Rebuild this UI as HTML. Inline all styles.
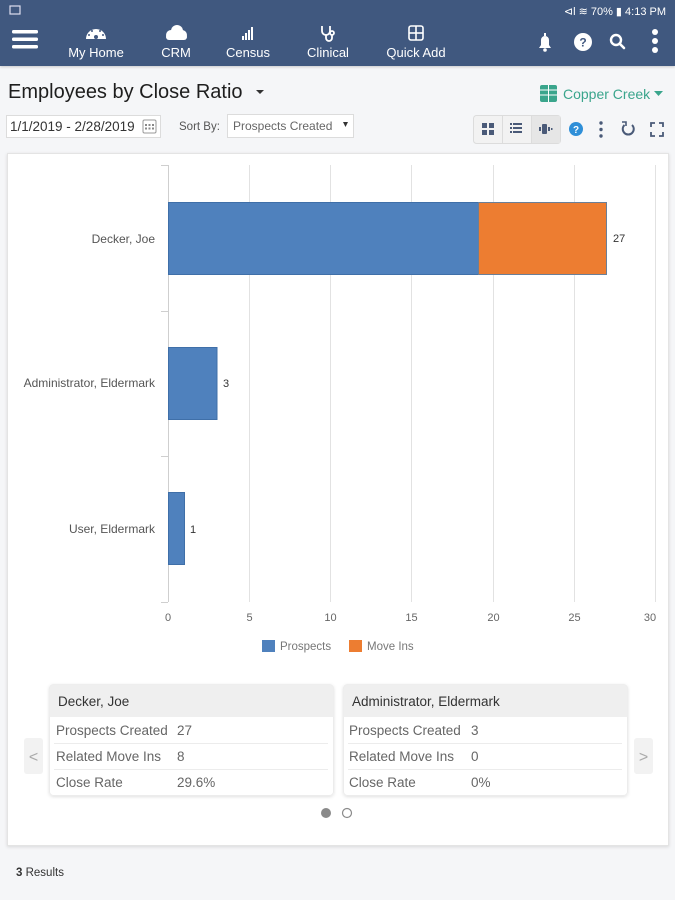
<!DOCTYPE html>
<html><head><meta charset="utf-8"><style>
html,body{margin:0;padding:0;background:#f5f6f8;}
body{width:675px;height:900px;overflow:hidden;font-family:"Liberation Sans",Arial,sans-serif;}
svg{display:block;}
</style></head><body>
<svg width="675" height="900" viewBox="0 0 675 900" xmlns="http://www.w3.org/2000/svg" font-family="Liberation Sans, Arial, sans-serif">
<defs>
<filter id="sh" x="-5%" y="-5%" width="110%" height="115%"><feDropShadow dx="0" dy="1" stdDeviation="1.2" flood-color="#000" flood-opacity="0.18"/></filter>
<filter id="sh2" x="-5%" y="-5%" width="110%" height="115%"><feDropShadow dx="0" dy="1" stdDeviation="1.5" flood-color="#000" flood-opacity="0.12"/></filter>
</defs>
<rect width="675" height="900" fill="#f5f6f8"/>
<!-- top bar -->
<rect x="0" y="0" width="675" height="66" fill="#41587f" filter="url(#sh)"/>
<rect x="10" y="6" width="10" height="8" fill="none" stroke="#dde" stroke-width="1.2"/>
<text x="666" y="15" font-size="11" fill="#fff" text-anchor="end">⊲l  ≋ 70% ▮ 4:13 PM</text>
<!-- hamburger -->
<rect x="12" y="30" width="26" height="3.5" rx="1.5" fill="#fff"/>
<rect x="12" y="37.5" width="26" height="3.5" rx="1.5" fill="#fff"/>
<rect x="12" y="45" width="26" height="3.5" rx="1.5" fill="#fff"/>
<!-- My Home gauge -->
<path d="M86,39 A10,10 0 0 1 106,39 Z" fill="#fff"/>
<circle cx="96" cy="37" r="2" fill="#41587f"/>
<circle cx="89" cy="35" r="1" fill="#41587f"/><circle cx="92" cy="31" r="1" fill="#41587f"/><circle cx="100" cy="31" r="1" fill="#41587f"/><circle cx="103" cy="35" r="1" fill="#41587f"/>
<text x="96" y="57" font-size="13" fill="#fff" text-anchor="middle">My Home</text>
<!-- CRM cloud -->
<g fill="#fff"><circle cx="171" cy="35" r="5"/><circle cx="177" cy="31" r="6"/><circle cx="182" cy="35" r="5"/><rect x="166" y="34" width="21" height="6" rx="3"/></g>
<text x="176" y="57" font-size="13" fill="#fff" text-anchor="middle">CRM</text>
<!-- Census -->
<g fill="#fff"><rect x="242" y="36" width="2" height="4"/><rect x="245" y="33" width="2" height="7"/><rect x="248" y="30" width="2" height="10"/><rect x="251" y="27" width="2" height="13"/></g>
<text x="248" y="57" font-size="13" fill="#fff" text-anchor="middle">Census</text>
<!-- Clinical stethoscope -->
<g fill="none" stroke="#fff" stroke-width="1.8"><path d="M322,26 v5 a4,4 0 0 0 8,0 v-5"/><path d="M326,35 v3 a3,3 0 0 0 6,0 v-3"/><circle cx="332" cy="33" r="2"/></g>
<text x="328" y="57" font-size="13" fill="#fff" text-anchor="middle">Clinical</text>
<!-- Quick Add -->
<g fill="none" stroke="#fff" stroke-width="1.6"><rect x="409" y="26" width="14" height="14" rx="2"/><line x1="416" y1="26" x2="416" y2="40"/><line x1="409" y1="33" x2="423" y2="33"/></g>
<text x="416" y="57" font-size="13" fill="#fff" text-anchor="middle">Quick Add</text>
<!-- bell -->
<path d="M539,48 h12 l-2,-3 v-5 a4,4 0 0 0 -8,0 v5 Z" fill="#fff"/><circle cx="545" cy="50" r="1.8" fill="#fff"/><rect x="544" y="33" width="2" height="3" fill="#fff"/>
<!-- help -->
<circle cx="583" cy="42" r="9" fill="#fff"/>
<text x="583" y="46.5" font-size="12" font-weight="bold" fill="#41587f" text-anchor="middle">?</text>
<!-- search -->
<circle cx="616" cy="40" r="5" fill="none" stroke="#fff" stroke-width="2.4"/><line x1="620" y1="44" x2="624" y2="48" stroke="#fff" stroke-width="2.6" stroke-linecap="round"/>
<!-- dots -->
<circle cx="655" cy="32" r="3" fill="#fff"/><circle cx="655" cy="41" r="3" fill="#fff"/><circle cx="655" cy="50" r="3" fill="#fff"/>

<!-- title -->
<text x="8" y="98" font-size="20" fill="#1e1e1e">Employees by Close Ratio</text>
<path d="M256,90 h8 l-4,4 Z" fill="#333"/>
<!-- Copper creek -->
<rect x="540" y="85" width="17" height="17" rx="2" fill="#3aa58c"/>
<g stroke="#fff" stroke-width="1"><line x1="548.5" y1="85" x2="548.5" y2="102"/><line x1="540" y1="90" x2="557" y2="90"/><line x1="540" y1="95" x2="557" y2="95"/></g>
<text x="563" y="99" font-size="14" fill="#3aa58c">Copper Creek</text>
<path d="M654,91 h9 l-4.5,5 Z" fill="#3aa58c"/>

<!-- date box -->
<rect x="6.5" y="115.5" width="154" height="22" fill="#fff" stroke="#dcdcdc"/>
<text x="10" y="131" font-size="13.5" fill="#333">1/1/2019 - 2/28/2019</text>
<rect x="143" y="120" width="13" height="13" rx="1.5" fill="#fff" stroke="#999" stroke-width="1"/>
<g fill="#888"><rect x="145" y="124" width="2" height="2"/><rect x="148.5" y="124" width="2" height="2"/><rect x="152" y="124" width="2" height="2"/><rect x="145" y="127.5" width="2" height="2"/><rect x="148.5" y="127.5" width="2" height="2"/><rect x="152" y="127.5" width="2" height="2"/></g>
<text x="179" y="130" font-size="11.5" fill="#555">Sort By:</text>
<rect x="227.5" y="114.5" width="126" height="23" fill="#fff" stroke="#dcdcdc"/>
<text x="233" y="130" font-size="12" fill="#666">Prospects Created</text>
<path d="M343,122 h5 l-2.5,5 Z" fill="#333"/>

<!-- view button group -->
<rect x="473.5" y="115.5" width="87" height="28" rx="3" fill="#f2f2f2" stroke="#dcdcdc"/>
<rect x="531" y="116" width="29" height="27" fill="#e6e6e6"/>
<line x1="502.5" y1="116" x2="502.5" y2="143" stroke="#dcdcdc"/>
<line x1="531.5" y1="116" x2="531.5" y2="143" stroke="#dcdcdc"/>
<g fill="#4a5a78"><rect x="482" y="123" width="5" height="5"/><rect x="489" y="123" width="5" height="5"/><rect x="482" y="130" width="5" height="5"/><rect x="489" y="130" width="5" height="5"/></g>
<g fill="#4a5a78"><rect x="510" y="123" width="2" height="2"/><rect x="513" y="123" width="9" height="2"/><rect x="510" y="127" width="2" height="2"/><rect x="513" y="127" width="9" height="2"/><rect x="510" y="131" width="2" height="2"/><rect x="513" y="131" width="9" height="2"/></g>
<g fill="#4a5a78"><rect x="539" y="127" width="2" height="4"/><rect x="542" y="124" width="5" height="10" rx="1"/><rect x="548" y="127" width="2" height="4"/><rect x="551" y="128" width="1.5" height="2"/></g>
<circle cx="576" cy="129" r="7" fill="#2f8fd8"/>
<text x="576" y="133" font-size="10" font-weight="bold" fill="#fff" text-anchor="middle">?</text>
<g fill="#4a5a78"><circle cx="601" cy="123" r="1.7"/><circle cx="601" cy="129.5" r="1.7"/><circle cx="601" cy="136" r="1.7"/></g>
<path d="M632,125 A5.5,5.5 0 1 1 624.5,125" fill="none" stroke="#4a5a78" stroke-width="2"/>
<path d="M622,122 l4,0 0,4" fill="none" stroke="#4a5a78" stroke-width="1.6"/>
<g stroke="#4a5a78" stroke-width="1.8" fill="none"><path d="M651,127 v-4 h4"/><path d="M659,123 h4 v4"/><path d="M663,132 v4 h-4"/><path d="M655,136 h-4 v-4"/></g>

<!-- chart card -->
<rect x="7.5" y="153.5" width="661" height="692" fill="#fff" stroke="#e4e4e4" filter="url(#sh2)"/>
<!-- gridlines -->
<g stroke="#e2e2e2" stroke-width="1">
<line x1="249.5" y1="165" x2="249.5" y2="602"/>
<line x1="330.5" y1="165" x2="330.5" y2="602"/>
<line x1="411.5" y1="165" x2="411.5" y2="602"/>
<line x1="493.5" y1="165" x2="493.5" y2="602"/>
<line x1="574.5" y1="165" x2="574.5" y2="602"/>
<line x1="655.5" y1="165" x2="655.5" y2="602"/>
</g>
<g stroke="#cfcfcf" stroke-width="1">
<line x1="168.5" y1="165" x2="168.5" y2="602"/>
<line x1="161" y1="165.5" x2="168" y2="165.5"/>
<line x1="161" y1="311.5" x2="168" y2="311.5"/>
<line x1="161" y1="456.5" x2="168" y2="456.5"/>
<line x1="161" y1="602.5" x2="168" y2="602.5"/>
</g>
<!-- bars -->
<rect x="168.5" y="202.5" width="310" height="72" fill="#4f81bd" stroke="#3f6fa8"/>
<rect x="478.5" y="202.5" width="128" height="72" fill="#ed7d31" stroke="#6a7f98"/>
<rect x="168.5" y="347.5" width="48.5" height="72" fill="#4f81bd" stroke="#3f6fa8"/>
<rect x="168.5" y="492.5" width="16" height="72" fill="#4f81bd" stroke="#3f6fa8"/>
<g font-size="11" fill="#333">
<text x="613" y="242">27</text>
<text x="223" y="387">3</text>
<text x="190" y="533">1</text>
</g>
<g font-size="12" fill="#555" text-anchor="end">
<text x="155" y="243">Decker, Joe</text>
<text x="155" y="387">Administrator, Eldermark</text>
<text x="155" y="533">User, Eldermark</text>
</g>
<g font-size="11" fill="#666" text-anchor="middle">
<text x="168" y="621">0</text>
<text x="249.5" y="621">5</text>
<text x="330.5" y="621">10</text>
<text x="411.5" y="621">15</text>
<text x="493.5" y="621">20</text>
<text x="574.5" y="621">25</text>
<text x="650" y="621">30</text>
</g>
<!-- legend -->
<rect x="262" y="640" width="13" height="12" fill="#4f81bd"/>
<text x="280" y="650" font-size="11.5" fill="#777">Prospects</text>
<rect x="349" y="640" width="13" height="12" fill="#ed7d31"/>
<text x="367" y="650" font-size="11.5" fill="#777">Move Ins</text>

<!-- arrows -->
<rect x="24" y="738" width="19" height="36" rx="3" fill="#f2f2f2"/>
<text x="33.5" y="762" font-size="16" fill="#aaa" text-anchor="middle">&lt;</text>
<rect x="634" y="738" width="19" height="36" rx="3" fill="#f2f2f2"/>
<text x="643.5" y="762" font-size="16" fill="#aaa" text-anchor="middle">&gt;</text>

<!-- left card -->
<g filter="url(#sh2)">
<rect x="49.5" y="684.5" width="284" height="111" rx="4" fill="#fff" stroke="#ececec"/>
</g>
<path d="M49.5,717 v-28.5 a4,4 0 0 1 4,-4 h276 a4,4 0 0 1 4,4 v28.5 Z" fill="#efefef"/>
<text x="58" y="706" font-size="13.5" fill="#333">Decker, Joe</text>
<g stroke="#ececec"><line x1="54" y1="743.5" x2="328" y2="743.5"/><line x1="54" y1="769.5" x2="328" y2="769.5"/></g>
<g font-size="13.5" fill="#666">
<text x="56" y="735">Prospects Created</text><text x="177" y="735">27</text>
<text x="56" y="761">Related Move Ins</text><text x="177" y="761">8</text>
<text x="56" y="787">Close Rate</text><text x="177" y="787">29.6%</text>
</g>
<!-- right card -->
<g filter="url(#sh2)">
<rect x="343.5" y="684.5" width="284" height="111" rx="4" fill="#fff" stroke="#ececec"/>
</g>
<path d="M343.5,717 v-28.5 a4,4 0 0 1 4,-4 h276 a4,4 0 0 1 4,4 v28.5 Z" fill="#efefef"/>
<text x="352" y="706" font-size="13.5" fill="#333">Administrator, Eldermark</text>
<g stroke="#ececec"><line x1="348" y1="743.5" x2="622" y2="743.5"/><line x1="348" y1="769.5" x2="622" y2="769.5"/></g>
<g font-size="13.5" fill="#666">
<text x="349" y="735">Prospects Created</text><text x="471" y="735">3</text>
<text x="349" y="761">Related Move Ins</text><text x="471" y="761">0</text>
<text x="349" y="787">Close Rate</text><text x="471" y="787">0%</text>
</g>
<!-- dots -->
<circle cx="326" cy="813" r="5" fill="#8a8a8a"/>
<circle cx="347" cy="813" r="4.5" fill="#fff" stroke="#8a8a8a" stroke-width="1.2"/>

<!-- results -->
<text x="16" y="876" font-size="11.5" fill="#333"><tspan font-weight="bold">3</tspan> Results</text>
</svg>
</body></html>
